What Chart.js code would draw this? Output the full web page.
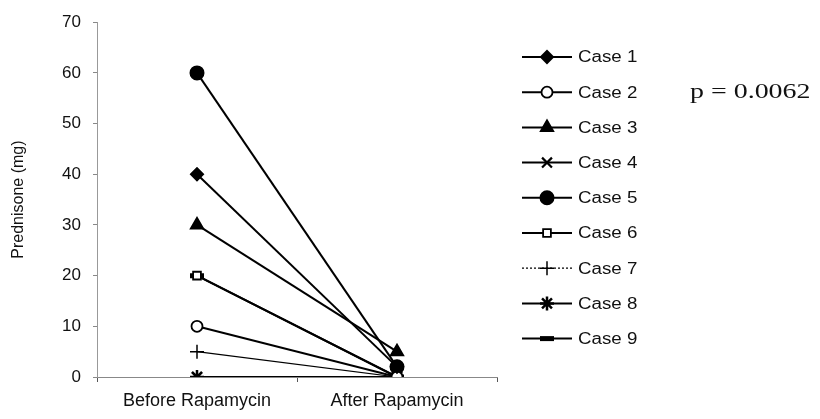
<!DOCTYPE html>
<html>
<head>
<meta charset="utf-8">
<script src="https://cdn.jsdelivr.net/npm/chart.js@4/dist/chart.umd.min.js"></script>
<style>
  html, body { margin: 0; padding: 0; background: #fff; }
  #wrap { position: relative; width: 820px; height: 419px; }
  #pval { position: absolute; left: 690px; top: 78px; font-family: "Liberation Serif", "DejaVu Serif", serif; font-size: 22px; color: #111; white-space: nowrap; transform: scaleX(1.27); transform-origin: left center; }
</style>
</head>
<body>
<div id="wrap">
  <canvas id="c" width="820" height="419"></canvas>
  <div id="pval">p = 0.0062</div>
</div>
<script>
const categories = ["Before Rapamycin", "After Rapamycin"];
const caseLabels = ["Case 1", "Case 2", "Case 3", "Case 4", "Case 5", "Case 6", "Case 7", "Case 8", "Case 9"];
const case1 = [40, 2];
const case2 = [10, 0];
const case3 = [30, 5];
const case4 = [0, 0];
const case5 = [60, 2];
const case6 = [20, 0];
const case7 = [5, 0];
const case8 = [0, 0];
const case9 = [20, 0];
const yTicks = [0, 10, 20, 30, 40, 50, 60, 70];

const seriesValues = [case1, case2, case3, case4, case5, case6, case7, case8, case9];
const styles = [
  { ps: 'rectRot', r: 6, fill: '#000', bw: 2 },
  { ps: 'circle', r: 5.5, fill: '#fff', bw: 1.8 },
  { ps: 'triangle', r: 7, fill: '#000', bw: 2 },
  { ps: 'crossRot', r: 7, fill: '#000', bw: 2.2 },
  { ps: 'circle', r: 6.5, fill: '#000', bw: 2 },
  { ps: 'rect', r: 5.5, fill: '#fff', bw: 1.8 },
  { ps: 'cross', r: 7, fill: '#000', bw: 1.5, dash: [2, 2], lw: 1.2 },
  { ps: 'star', r: 7, fill: '#000', bw: 2.5 },
  { ps: 'line', r: 7, fill: '#000', bw: 5 }
];

const datasets = seriesValues.map((vals, i) => ({
  label: caseLabels[i],
  data: vals,
  borderColor: '#000',
  backgroundColor: styles[i].fill,
  borderWidth: styles[i].lw || 2,
  pointStyle: styles[i].ps,
  pointRadius: styles[i].r,
  pointBorderWidth: styles[i].bw,
  pointBorderColor: '#000',
  pointBackgroundColor: styles[i].fill,
  fill: false,
  tension: 0
}));

const legendPlugin = {
  id: 'customLegend',
  afterDraw(chart) {
    const ctx = chart.ctx;
    const x0 = 522, x1 = 572, y0 = 57, dy = 35.2;
    ctx.save();
    chart.data.datasets.forEach((ds, i) => {
      const y = y0 + i * dy;
      const st = styles[i];
      ctx.strokeStyle = '#000';
      ctx.lineWidth = st.lw || 2;
      ctx.setLineDash(st.dash || []);
      ctx.beginPath();
      ctx.moveTo(x0, y);
      ctx.lineTo(x1, y);
      ctx.stroke();
      ctx.setLineDash([]);
      ctx.fillStyle = st.fill;
      ctx.strokeStyle = '#000';
      ctx.lineWidth = st.bw;
      Chart.helpers.drawPoint(ctx, { pointStyle: st.ps, radius: st.r, rotation: 0, borderWidth: st.bw }, (x0 + x1) / 2, y);
      ctx.fillStyle = '#111';
      ctx.font = '16px "Liberation Sans", Arial, sans-serif';
      ctx.textBaseline = 'middle';
      ctx.textAlign = 'left';
      ctx.save();
      ctx.translate(578, y);
      ctx.scale(1.17, 1);
      ctx.fillText(ds.label, 0, 1);
      ctx.restore();
    });
    ctx.restore();
  }
};

new Chart(document.getElementById('c'), {
  type: 'line',
  data: { labels: categories, datasets: datasets },
  options: {
    responsive: false,
    animation: false,
    events: [],
    layout: { padding: { left: 0, top: 20, right: 323, bottom: 0 } },
    plugins: { legend: { display: false }, tooltip: { enabled: false } },
    scales: {
      x: {
        offset: true,
        grid: { display: true, drawOnChartArea: false, drawTicks: true, tickLength: 5, color: '#555', offset: true },
        border: { display: true, color: '#888', width: 1 },
        ticks: { color: '#111', font: { family: '"Liberation Sans", Arial, sans-serif', size: 18 }, padding: 8, maxRotation: 0 },
        afterFit(s) { s.height = 42; }
      },
      y: {
        min: 0, max: 70,
        afterBuildTicks(s) { s.ticks = yTicks.map(v => ({ value: v })); },
        grid: { display: true, drawOnChartArea: false, drawTicks: true, tickLength: 4, color: '#888' },
        border: { display: true, color: '#999', width: 1, dash: [3, 2] },
        ticks: { color: '#111', font: { family: '"Liberation Sans", Arial, sans-serif', size: 17 }, padding: 12 },
        title: { display: true, text: 'Prednisone (mg)', color: '#111', font: { family: '"Liberation Sans", Arial, sans-serif', size: 16 }, padding: { top: 9, bottom: 6 } },
        afterFit(s) { s.width = 97; }
      }
    }
  },
  plugins: [legendPlugin]
});
</script>
</body>
</html>
